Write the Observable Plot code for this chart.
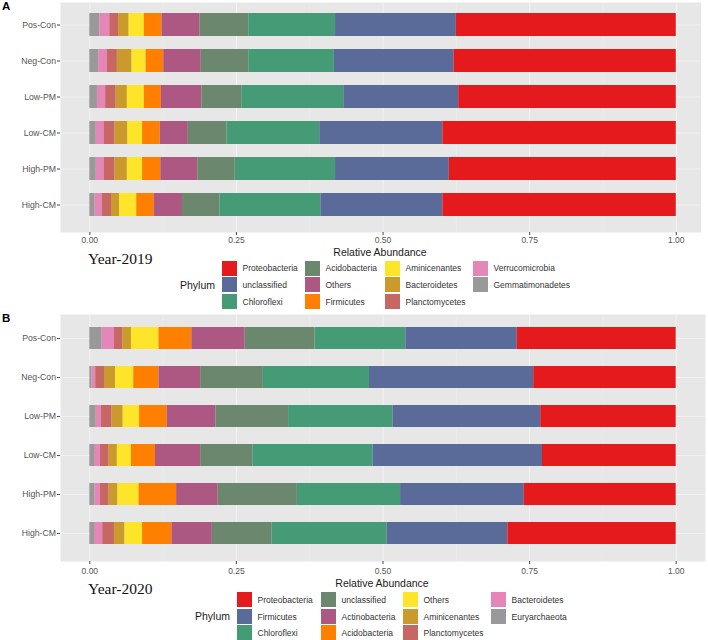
<!DOCTYPE html>
<html><head><meta charset="utf-8">
<script src="https://cdn.jsdelivr.net/npm/d3@7"></script>
<script src="https://cdn.jsdelivr.net/npm/@observablehq/plot@0.6"></script>
<style>
body{margin:0;background:#fff;font-family:"Liberation Sans",Arial,sans-serif;}
#wrap{position:relative;width:708px;height:640px;overflow:hidden;background:#fff;}
.abs{position:absolute;white-space:nowrap;line-height:1;}
.key{position:absolute;}
</style></head><body><div id="wrap"></div>
<script>
// ---------- data ----------
const samples = ["Pos-Con", "Neg-Con", "Low-PM", "Low-CM", "High-PM", "High-CM"];
const palette = ["#E41A1C", "#5A6A99", "#449B76", "#6B886E", "#AD5882", "#FF7F00", "#FFE529", "#CA9A2C", "#C66764", "#E486B7", "#999999"];

// legend order (first = right-most segment)
const phyla2019 = ["Proteobacteria", "unclassified", "Chloroflexi", "Acidobacteria", "Others", "Firmicutes", "Aminicenantes", "Bacteroidetes", "Planctomycetes", "Verrucomicrobia", "Gemmatimonadetes"];
const phyla2020 = ["Proteobacteria", "Firmicutes", "Chloroflexi", "unclassified", "Actinobacteria", "Acidobacteria", "Others", "Aminicenantes", "Planctomycetes", "Bacteroidetes", "Euryarchaeota"];

// relative abundance per sample, left-to-right along the bar (reverse of legend order)
const values2019 = [
  [0.017, 0.017, 0.015, 0.018, 0.026, 0.030, 0.065, 0.083, 0.148, 0.206, 0.375],
  [0.015, 0.015, 0.017, 0.025, 0.024, 0.030, 0.064, 0.081, 0.146, 0.204, 0.379],
  [0.013, 0.014, 0.018, 0.019, 0.029, 0.029, 0.069, 0.068, 0.174, 0.196, 0.371],
  [0.011, 0.014, 0.018, 0.022, 0.025, 0.030, 0.048, 0.066, 0.158, 0.210, 0.398],
  [0.011, 0.014, 0.018, 0.021, 0.026, 0.031, 0.063, 0.064, 0.171, 0.194, 0.387],
  [0.009, 0.012, 0.016, 0.014, 0.029, 0.030, 0.048, 0.064, 0.172, 0.208, 0.398]
];
const values2020 = [
  [0.021, 0.021, 0.014, 0.015, 0.047, 0.056, 0.091, 0.119, 0.155, 0.190, 0.271],
  [0.004, 0.006, 0.015, 0.019, 0.031, 0.043, 0.071, 0.107, 0.181, 0.280, 0.243],
  [0.011, 0.009, 0.018, 0.019, 0.028, 0.047, 0.083, 0.124, 0.178, 0.252, 0.231],
  [0.008, 0.010, 0.015, 0.014, 0.024, 0.041, 0.077, 0.089, 0.205, 0.289, 0.228],
  [0.009, 0.009, 0.015, 0.015, 0.036, 0.064, 0.071, 0.135, 0.176, 0.211, 0.259],
  [0.008, 0.014, 0.020, 0.018, 0.030, 0.050, 0.069, 0.102, 0.196, 0.206, 0.287]
];

const xTicks = [0, 0.25, 0.5, 0.75, 1];
const xTickLabels = ["0.00", "0.25", "0.50", "0.75", "1.00"];
const xMinor = [0.125, 0.375, 0.625, 0.875];
const xTitle = "Relative Abundance";
const legendTitle = "Phylum";
const yearLabels = ["Year-2019", "Year-2020"];
const panelLetters = ["A", "B"];

// ---------- helpers ----------
const wrap = document.getElementById("wrap");

function rows(values, phyla) {
  const order = phyla.slice().reverse();
  const out = [];
  samples.forEach((s, i) => order.forEach((p, j) => out.push({sample: s, phylum: p, value: values[i][j]})));
  return out;
}

function addText(txt, x, yc, size, css = {}) {
  const d = document.createElement("div");
  d.className = "abs";
  d.textContent = txt;
  Object.assign(d.style, {left: x + "px", top: yc + "px", fontSize: size + "px", transform: "translateY(-50%)"}, css);
  wrap.appendChild(d);
  return d;
}

function panel(cfg) {
  const data = rows(cfg.values, cfg.phyla);
  const chart = Plot.plot({
    width: 708, height: cfg.height,
    marginTop: 2, marginLeft: 60, marginRight: cfg.marginRight, marginBottom: cfg.marginBottom,
    style: {background: "transparent", fontFamily: "Liberation Sans, Arial, sans-serif", overflow: "visible"},
    x: {domain: [-0.05, cfg.xmax]},
    y: {domain: samples, paddingInner: cfg.paddingInner, paddingOuter: cfg.paddingOuter, align: cfg.align},
    color: {domain: cfg.phyla, range: palette},
    marks: [
      Plot.frame({fill: "#e7e7e7", stroke: "none"}),
      Plot.gridX(xMinor, {stroke: "#eeeeee", strokeOpacity: 1, strokeWidth: 0.6}),
      Plot.gridX(xTicks, {stroke: "#f2f2f2", strokeOpacity: 1, strokeWidth: 1.1}),
      Plot.gridY(samples, {stroke: "#f2f2f2", strokeOpacity: 1, strokeWidth: 1.1}),
      Plot.barX(data, {y: "sample", x: "value", fill: "phylum", order: cfg.phyla.slice().reverse()}),
      Plot.axisX(xTicks, {tickSize: 3, tickPadding: cfg.tickPad, fontSize: 8.5, color: "#555", strokeWidth: 1.1,
        tickFormat: d => xTickLabels[xTicks.indexOf(d)], label: null}),
      Plot.axisY(samples, {tickSize: 3, tickPadding: 1.5, fontSize: 8.7, color: "#555", strokeWidth: 1.1, label: null})
    ]
  });
  const holder = document.createElement("div");
  holder.style.position = "absolute";
  holder.style.left = "0px";
  holder.style.top = cfg.top + "px";
  holder.appendChild(chart);
  wrap.appendChild(holder);

  // panel letter
  addText(cfg.letter, 2, cfg.letterY, 11.5, {fontWeight: "bold", color: "#000"});
  // x title
  addText(xTitle, cfg.titleX, cfg.titleY, 10.5, {color: "#1a1a1a", transform: "translate(-50%,-50%)"});
  // year label
  addText(cfg.year, 88, cfg.yearY, 15.5, {fontFamily: "'Liberation Serif', 'Times New Roman', serif", color: "#111"});
  // legend
  addText(legendTitle, cfg.phylumX, cfg.legendTop + 16.7 + 7.5, 10.5, {color: "#1a1a1a"});
  cfg.phyla.forEach((p, i) => {
    const col = Math.floor(i / 3), r = i % 3;
    const kx = cfg.keyX[col], ky = cfg.legendTop + r * 16.7;
    const k = document.createElement("div");
    k.className = "key";
    Object.assign(k.style, {left: kx + "px", top: ky + "px", width: "15px", height: "15px", background: palette[i]});
    wrap.appendChild(k);
    addText(p, kx + 20.5, ky + 7.8, 8.5, {color: "#333"});
  });
}

panel({
  values: values2019, phyla: phyla2019, top: 0, height: 258, marginBottom: 26, marginRight: 7.3, xmax: 1.0425,
  paddingInner: 0.368, paddingOuter: 0.343, align: 0.39, tickPad: 1.5,
  letter: panelLetters[0], letterY: 7, titleX: 380, titleY: 251.5, year: yearLabels[0], yearY: 259,
  phylumX: 180, legendTop: 260.5, keyX: [222, 305, 385, 473]
});
panel({
  values: values2020, phyla: phyla2020, top: 312, height: 272, marginBottom: 23, marginRight: 3, xmax: 1.05,
  paddingInner: 0.425, paddingOuter: 0.339, align: 0.435, tickPad: 3.5,
  letter: panelLetters[1], letterY: 318.5, titleX: 382, titleY: 582.5, year: yearLabels[1], yearY: 589,
  phylumX: 195, legendTop: 592, keyX: [237, 321, 403, 491]
});
</script></body></html>
